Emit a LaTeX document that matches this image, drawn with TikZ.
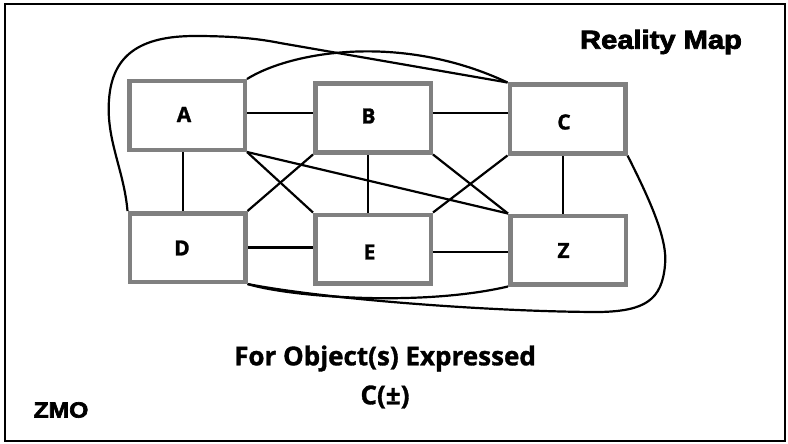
\documentclass[tikz,border=0pt]{standalone}
\usepackage{fontspec}
\setmainfont{Open Sans}
\newfontfamily\heavyfont[FakeBold=3,FakeStretch=1.12]{Liberation Sans Bold}
\newfontfamily\labelfont[FakeBold=1.2]{Open Sans Bold}
\usetikzlibrary{calc}
\pgfdeclarelayer{background}
\pgfsetlayers{background,main}
\tikzstyle{entity}=[rectangle,draw=gray,line width=4.5pt,minimum width=115.5pt,minimum height=68.5pt,inner sep=0pt]
\tikzstyle{entlabel}=[font=\labelfont\fontsize{21}{24}\selectfont,inner sep=0pt]
\tikzstyle{link}=[draw=black,line width=2.2pt]
\tikzstyle{heading}=[font=\heavyfont\fontsize{26}{28}\selectfont,inner sep=0pt]

\begin{document}
\begin{tikzpicture}[x=1pt,y=-1pt]
\def \hrow {113};
\def \lrow {252};

\useasboundingbox (0,0) rectangle (788,444);
\draw[line width=2.5pt] (5,4) rectangle (785,441);

\foreach \n/\x/\y in {A/187/115.5, B/373/118, C/567.5/119, D/187.5/247.5, E/373/249, Z/568/250} {
	\node[entity] (\n) at (\x,\y) {};
};

\foreach \n/\x/\y in {A/184/114.5, B/368.5/116, C/564/122, D/182/248, E/369.5/252, Z/563.5/250.5} {
	\node[entlabel] (l\n) at (\x,\y) {\n};
};

\begin{pgfonlayer}{background}
% straight links
\draw[link] (A.east |- 0,\hrow) -- (B.west |- 0,\hrow);
\draw[link] (B.east |- 0,\hrow) -- (C.west |- 0,\hrow);
\draw[link] (D.east) -- (E.west |- D.east);
\draw[link] (E.east |- 0,\lrow) -- (Z.west |- 0,\lrow);
\draw[link] (A.south -| 183,0) -- (D.north -| 183,0);
\draw[link] (B.south -| 368,0) -- (E.north -| 368,0);
\draw[link] (C.south -| 563,0) -- (Z.north -| 563,0);

% diagonals
\draw[link] (A.south east) -- (E.north west);
\draw[link] (A.south east) -- (Z.north west);
\draw[link] (B.south west) -- (D.north east);
\draw[link] (B.south east) -- (Z.north west);
\draw[link] (C.south west) -- (E.north east);

% curved links
\draw[link] (A.north east) .. controls (290,52) and (400,32) .. (C.north west);
\draw[link] (D.north west) .. controls (124,170) and (106,140) .. (109,100)
	.. controls (112,55) and (140,36) .. (195,36)
	.. controls (235,36) and (260,39) .. (280,43) -- (C.north west);
\draw[link] (C.south east) .. controls (650,200) and (668,240) .. (665,265)
	.. controls (662,300) and (645,311) .. (600,312)
	.. controls (500,312) and (330,300) .. (D.south east);
\draw[link] (D.south east) .. controls (290,297) and (420,307) .. (Z.south west);
\end{pgfonlayer}

\node[heading] (title) at (661,42) {Reality Map};
\node[heading,font=\heavyfont\fontsize{22}{24}\selectfont] (tag) at (61,410) {ZMO};
\node[font=\labelfont\fontsize{26}{39}\selectfont,align=center,inner sep=0pt] (caption) at (385,377) {For Object(s) Expressed\\C(±)};

\end{tikzpicture}
\end{document}
